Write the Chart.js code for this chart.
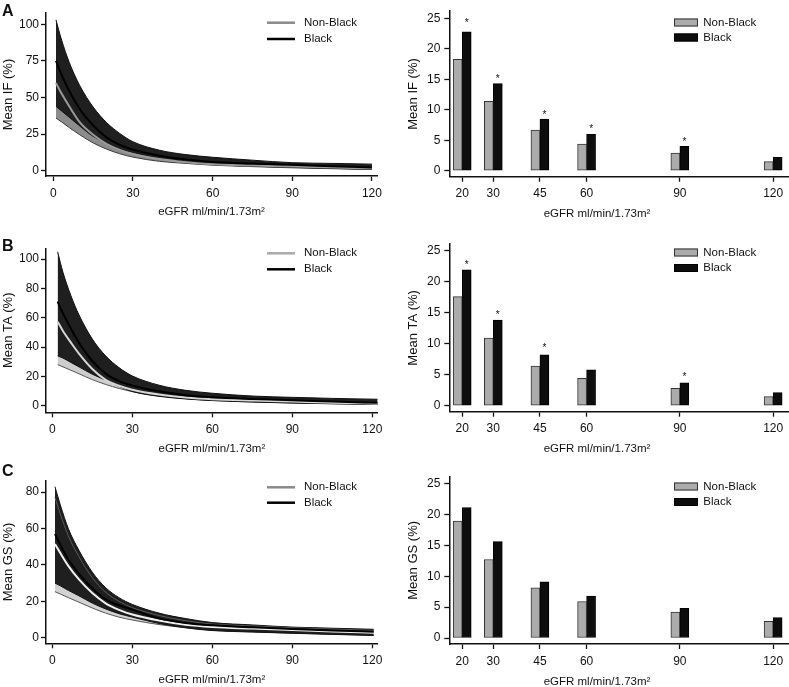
<!DOCTYPE html>
<html>
<head>
<meta charset="utf-8">
<script src="https://cdn.jsdelivr.net/npm/chart.js@4.4.1/dist/chart.umd.min.js"></script>
<style>
  html, body { margin: 0; padding: 0; background: #fff; }
  body { width: 789px; height: 687px; position: relative; overflow: hidden; font-family: "Liberation Sans", Arial, Helvetica, sans-serif; color: #111; }
  canvas { position: absolute; }
  .tag { position: absolute; left: 2px; font-weight: bold; font-size: 16px; line-height: 16px; }
  .xname { position: absolute; width: 200px; text-align: center; font-size: 11.5px; line-height: 14px; white-space: nowrap; }
</style>
</head>
<body>
<canvas id="curveIF" width="390" height="230" style="left:0;top:0"></canvas>
<canvas id="barIF" width="399" height="230" style="left:390px;top:0"></canvas>
<canvas id="curveTA" width="390" height="230" style="left:0;top:230px"></canvas>
<canvas id="barTA" width="399" height="230" style="left:390px;top:230px"></canvas>
<canvas id="curveGS" width="390" height="227" style="left:0;top:460px"></canvas>
<canvas id="barGS" width="399" height="227" style="left:390px;top:460px"></canvas>

<div class="tag" id="tagA" style="top:3px"></div>
<div class="tag" id="tagB" style="top:238px"></div>
<div class="tag" id="tagC" style="top:463px"></div>
<div class="xname" id="xnA" style="left:497px;top:206px"></div>
<div class="xname" id="xnB" style="left:497px;top:441px"></div>
<div class="xname" id="xnC" style="left:497px;top:674px"></div>

<script>
const seriesNames = ["Non-Black", "Black"];
const panelTags = ["A", "B", "C"];
const yTitles = ["Mean IF (%)", "Mean TA (%)", "Mean GS (%)"];
const xTitle = "eGFR ml/min/1.73m²";

const curveTicksX = [0, 30, 60, 90, 120];
const ifTicksY = [0, 25, 50, 75, 100];
const taTicksY = [0, 20, 40, 60, 80, 100];
const gsTicksY = [0, 20, 40, 60, 80];
const barTicksX = [20, 30, 45, 60, 90, 120];
const barTicksY = [0, 5, 10, 15, 20, 25];

// interstitial fibrosis curves (mean and band edges)
const ifEgfr = [1, 3, 6, 10, 15, 20, 25, 30, 40, 50, 60, 75, 90, 105, 120];
const ifNonBlackMean = [60, 53, 44, 33, 24.5, 18.3, 14.2, 11.4, 8.0, 5.8, 4.4, 3.6, 2.9, 2.2, 1.5];
const ifNonBlackLow = [36, 33.5, 29.5, 24.5, 19, 14.8, 11.6, 9.3, 6.4, 5.0, 3.8, 2.8, 2.0, 1.4, 0.8];
const ifNonBlackHigh = [84, 74, 60, 45, 32, 22.5, 17.5, 14, 9.8, 7.1, 5.5, 4.6, 3.9, 3.1, 2.4];
const ifBlackMean = [75, 66, 54.5, 42, 31, 22.8, 17.6, 14.3, 10.3, 7.6, 6.0, 4.9, 4.0, 3.0, 2.2];
const ifBlackLow = [44, 41, 36.5, 30.5, 23.5, 19, 15, 12.3, 8.6, 5.6, 4.2, 3.1, 2.3, 1.6, 1.0];
const ifBlackHigh = [103, 90, 74, 58, 43.5, 33, 25.5, 19.8, 14, 11, 9.2, 7.2, 5.5, 5.0, 4.5];

// tubular atrophy curves
const taEgfr = [2, 4, 7, 10, 15, 20, 25, 30, 40, 50, 60, 75, 90, 105, 122];
const taNonBlackMean = [57.3, 51, 43, 35.5, 25, 17.6, 13.6, 10.9, 7.6, 5.6, 4.4, 3.5, 2.8, 2.1, 1.4];
const taNonBlackLow = [28, 26.5, 24.2, 21.8, 17.8, 14.5, 11.8, 9.6, 6.6, 4.8, 3.6, 2.6, 1.9, 1.4, 0.9];
const taNonBlackHigh = [88, 78, 64, 52, 36, 26, 19.5, 15, 10.5, 7.8, 6.2, 4.8, 4.0, 3.3, 2.6];
const taBlackMean = [71, 63, 52.5, 43, 30.5, 21.9, 16.8, 13.8, 9.8, 7.2, 5.8, 4.6, 3.7, 2.8, 2.0];
const taBlackLow = [34, 32.5, 29.5, 26.5, 21.5, 17.5, 13.2, 9.7, 6.4, 4.6, 3.5, 2.5, 1.8, 1.3, 0.8];
const taBlackHigh = [105, 91, 75, 62, 45.5, 34, 26, 20.3, 14, 10.5, 8.5, 6.6, 5.7, 5.0, 4.4];

// glomerulosclerosis curves
const gsEgfr = [1, 3, 6, 10, 15, 20, 25, 30, 40, 50, 60, 75, 90, 105, 120.5];
const gsNonBlackMean = [51.5, 46.5, 39.5, 32, 24.5, 18.9, 15.3, 12.7, 9.4, 7.1, 5.9, 5.0, 4.2, 3.4, 2.7];
const gsNonBlackLow = [25.3, 24, 22, 19.5, 16.3, 13.5, 11.3, 9.7, 7.2, 5.5, 4.0, 3.2, 2.5, 1.9, 1.3];
const gsNonBlackHigh = [77, 68, 56, 44.5, 33, 25, 20, 16.5, 12.2, 9.3, 7.5, 6.4, 5.5, 4.7, 4.0];
const gsBlackMean = [57, 51, 43, 35, 27, 21.1, 17.8, 15.4, 10.6, 8.1, 6.8, 5.7, 4.8, 4.0, 3.3];
const gsBlackLow = [30, 28.5, 26, 23, 19, 15.8, 13.2, 11.3, 7.8, 5.4, 3.9, 3.1, 2.4, 1.8, 1.2];
const gsBlackHigh = [83, 73, 60, 48, 36, 27.5, 22, 18.3, 13.5, 10.5, 8.3, 7.0, 5.8, 5.2, 4.6];

// bar panels, stars sit at the given height (null = no star)
const ifBarNonBlack = [18.3, 11.4, 6.7, 4.4, 2.9, 1.5];
const ifBarBlack = [22.8, 14.3, 8.5, 6.0, 4.0, 2.2];
const ifStars = [24.7, 15.6, 9.7, 7.3, 5.2, null];
const taBarNonBlack = [17.6, 10.9, 6.4, 4.4, 2.8, 1.45];
const taBarBlack = [21.9, 13.8, 8.2, 5.8, 3.7, 2.1];
const taStars = [23.2, 15.05, 9.8, null, 5.1, null];
const gsBarNonBlack = [18.9, 12.7, 8.1, 5.9, 4.2, 2.7];
const gsBarBlack = [21.1, 15.6, 9.1, 6.8, 4.8, 3.3];
const gsStars = [null, null, null, null, null, null];

const FONT = '"Liberation Sans", Arial, Helvetica, sans-serif';
const pts = (xs, ys) => xs.map((x, i) => ({ x: x, y: ys[i] }));

// small legend drawn in the corner of the plot
const keyPlugin = {
  id: 'key',
  afterDraw(chart, args, opts) {
    const ctx = chart.ctx;
    ctx.save();
    ctx.font = '11.5px ' + FONT;
    ctx.textBaseline = 'middle';
    opts.items.forEach((it, i) => {
      const y = opts.y + i * opts.gap;
      if (opts.kind === 'line') {
        ctx.strokeStyle = it.color;
        ctx.lineWidth = 2.5;
        ctx.beginPath();
        ctx.moveTo(opts.x, y);
        ctx.lineTo(opts.x + 28, y);
        ctx.stroke();
      } else {
        ctx.fillStyle = it.color;
        ctx.fillRect(opts.x, y - 4, 24, 8);
        ctx.strokeStyle = it.edge;
        ctx.lineWidth = 1;
        ctx.strokeRect(opts.x + 0.5, y - 3.5, 23, 7);
      }
      ctx.fillStyle = '#111';
      ctx.fillText(it.label, opts.textX, y);
    });
    ctx.restore();
  }
};

const starPlugin = {
  id: 'stars',
  afterDatasetsDraw(chart, args, opts) {
    if (!opts.values) return;
    const meta = chart.getDatasetMeta(1);
    const ctx = chart.ctx;
    ctx.save();
    ctx.font = '10px ' + FONT;
    ctx.fillStyle = '#111';
    ctx.textAlign = 'center';
    ctx.textBaseline = 'alphabetic';
    opts.values.forEach((v, i) => {
      if (v == null) return;
      ctx.fillText('*', meta.data[i].x, chart.scales.y.getPixelForValue(v) + 5.8);
    });
    ctx.restore();
  }
};

function axisX(ticks, min, max, title) {
  return {
    type: 'linear', min: min, max: max, offset: false,
    afterBuildTicks: s => { s.ticks = ticks.map(v => ({ value: v })); },
    afterFit: s => { s.height = 43; },
    grid: { display: true, offset: false, drawOnChartArea: false, drawTicks: true, tickLength: 5, tickColor: '#111', tickWidth: 1.3 },
    border: { display: true, color: '#111', width: 1.5 },
    ticks: { font: { family: FONT, size: 12 }, color: '#111', padding: 5, maxRotation: 0, autoSkip: false },
    title: title ? { display: true, text: title, font: { family: FONT, size: 11.5 }, color: '#111', padding: 0 } : { display: false }
  };
}

function axisY(ticks, min, max, title, width, titlePad, labelPad) {
  return {
    type: 'linear', min: min, max: max,
    afterBuildTicks: s => { s.ticks = ticks.map(v => ({ value: v })); },
    afterFit: s => { s.width = width; },
    grid: { display: true, drawOnChartArea: false, drawTicks: true, tickLength: 5, tickColor: '#111', tickWidth: 1.3 },
    border: { display: true, color: '#111', width: 1.5 },
    ticks: { font: { family: FONT, size: 12 }, color: '#111', padding: labelPad },
    title: { display: true, text: title, font: { family: FONT, size: 13 }, color: '#111', padding: { top: titlePad, bottom: 0 } }
  };
}

function curveSets(xs, nbLow, nbMean, nbHigh, bLow, bMean, bHigh, look) {
  const base = { pointRadius: 0, pointHoverRadius: 0, cubicInterpolationMode: 'monotone' };
  const sets = [
    { ...base, data: pts(xs, nbHigh), fill: '+1', backgroundColor: look.nbFill, borderWidth: 0, order: 7 },
    { ...base, data: pts(xs, nbLow), fill: false, borderColor: look.nbEdge, borderWidth: 1, order: 6 },
    { ...base, data: pts(xs, bHigh), fill: '+1', backgroundColor: '#1f1f1f', borderColor: '#111', borderWidth: 1, order: 5 },
    { ...base, data: pts(xs, bLow), fill: false, borderColor: '#111', borderWidth: 1, order: 4 },
    { ...base, label: seriesNames[0], data: pts(xs, nbMean), fill: false, borderColor: look.nbLine, borderWidth: 2, order: 2 },
    { ...base, label: seriesNames[1], data: pts(xs, bMean), fill: false, borderColor: '#000', borderWidth: 2, order: 1 }
  ];
  if (look.nbTopEdge) {
    sets.push({ ...base, data: pts(xs, nbHigh), fill: false, borderColor: look.nbTopEdge, borderWidth: 1, order: 3 });
  }
  return sets;
}

function drawCurve(id, sets, p) {
  new Chart(document.getElementById(id), {
    type: 'line',
    data: { datasets: sets },
    options: {
      responsive: false, animation: false, events: [],
      layout: { padding: p.pad },
      plugins: {
        legend: { display: false }, tooltip: { enabled: false },
        key: { kind: 'line', x: 267, textX: 304, y: p.keyY, gap: p.keyGap,
          items: [{ label: seriesNames[0], color: p.keyGray }, { label: seriesNames[1], color: '#000' }] }
      },
      scales: {
        x: axisX(curveTicksX, p.xMin, p.xMax, xTitle),
        y: axisY(p.ticksY, p.yMin, p.yMax, p.yTitle, 46, 0.5, 2)
      }
    },
    plugins: [keyPlugin]
  });
}

function drawBars(id, nb, b, stars, p) {
  new Chart(document.getElementById(id), {
    type: 'bar',
    data: {
      datasets: [
        { label: seriesNames[0], data: pts(barTicksX, nb), backgroundColor: '#ababab', borderColor: '#333', borderWidth: 1, borderSkipped: false, barThickness: 9 },
        { label: seriesNames[1], data: pts(barTicksX, b), backgroundColor: '#0d0d0d', borderColor: '#000', borderWidth: 1, borderSkipped: false, barThickness: 9 }
      ]
    },
    options: {
      responsive: false, animation: false, events: [],
      layout: { padding: p.pad },
      plugins: {
        legend: { display: false }, tooltip: { enabled: false },
        stars: { values: stars },
        key: { kind: 'box', x: 284, textX: 313.3, y: p.keyY, gap: p.keyGap,
          items: [{ label: seriesNames[0], color: '#ababab', edge: '#333' }, { label: seriesNames[1], color: '#0d0d0d', edge: '#000' }] }
      },
      scales: {
        x: axisX(barTicksX, 15.85, 125.1, null),
        y: axisY(barTicksY, -0.97, p.yMax, p.yTitle, 59.3, 15.5, 4)
      }
    },
    plugins: [keyPlugin, starPlugin]
  });
}

drawCurve('curveIF',
  curveSets(ifEgfr, ifNonBlackLow, ifNonBlackMean, ifNonBlackHigh, ifBlackLow, ifBlackMean, ifBlackHigh,
    { nbFill: '#8c8c8c', nbEdge: '#3a3a3a', nbLine: '#9a9a9a' }),
  { pad: { left: 0, top: 13, right: 13, bottom: 11 }, xMin: -2.75, xMax: 121.9, yMin: -3.6, yMax: 107.7,
    ticksY: ifTicksY, yTitle: yTitles[0], keyY: 22.7, keyGap: 16.3, keyGray: '#8a8a8a' });

drawCurve('curveTA',
  curveSets(taEgfr, taNonBlackLow, taNonBlackMean, taNonBlackHigh, taBlackLow, taBlackMean, taBlackHigh,
    { nbFill: '#cdcdcd', nbEdge: '#555', nbLine: '#d6d6d6' }),
  { pad: { left: 0, top: 18.3, right: 12.3, bottom: 4.7 }, xMin: -2.36, xMax: 122, yMin: -4.5, yMax: 107.4,
    ticksY: taTicksY, yTitle: yTitles[1], keyY: 23.3, keyGap: 16, keyGray: '#aaaaaa' });

drawCurve('curveGS',
  curveSets(gsEgfr, gsNonBlackLow, gsNonBlackMean, gsNonBlackHigh, gsBlackLow, gsBlackMean, gsBlackHigh,
    { nbFill: '#d2d2d2', nbEdge: '#555', nbLine: '#f0f0f0', nbTopEdge: '#5a5a5a' }),
  { pad: { left: 0, top: 20.7, right: 12.3, bottom: 0.7 }, xMin: -2.36, xMax: 122, yMin: -3.1, yMax: 86.3,
    ticksY: gsTicksY, yTitle: yTitles[2], keyY: 27.3, keyGap: 15.4, keyGray: '#8a8a8a' });

drawBars('barIF', ifBarNonBlack, ifBarBlack, ifStars,
  { pad: { left: 0, top: 8.3, right: 0, bottom: 10.3 }, yMax: 26.2, yTitle: yTitles[0], keyY: 22.5, keyGap: 15 });
drawBars('barTA', taBarNonBlack, taBarBlack, taStars,
  { pad: { left: 0, top: 14, right: 0, bottom: 5.3 }, yMax: 26.08, yTitle: yTitles[1], keyY: 22.5, keyGap: 15.5 });
drawBars('barGS', gsBarNonBlack, gsBarBlack, gsStars,
  { pad: { left: 0, top: 16.7, right: 0, bottom: 0 }, yMax: 26.1, yTitle: yTitles[2], keyY: 26.5, keyGap: 15.5 });

panelTags.forEach(t => { document.getElementById('tag' + t).textContent = t; });
['xnA', 'xnB', 'xnC'].forEach(id => { document.getElementById(id).textContent = xTitle; });
</script>
</body>
</html>
